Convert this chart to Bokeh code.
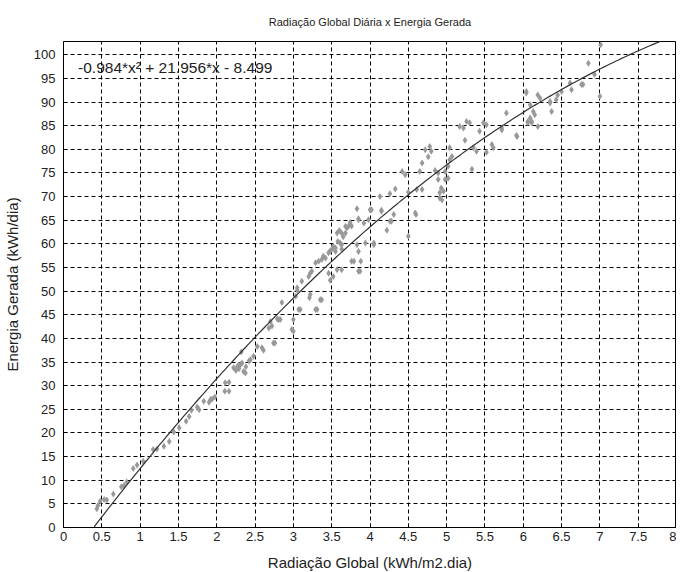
import numpy as np
from bokeh.plotting import figure
from bokeh.models import LinearAxis, FixedTicker, Range1d, Label, ColumnDataSource
from bokeh.embed import file_html
from bokeh.resources import INLINE

# ---- data ----
rad = [0.435, 0.45, 0.478, 0.53, 0.565, 0.65, 0.755, 0.79, 0.825, 0.91, 0.96, 1.04, 1.17, 1.22, 1.31, 1.38,
       1.44, 1.51, 1.60, 1.64, 1.67, 1.745, 1.77, 1.83, 1.90, 1.92, 1.94, 1.975,
       2.105, 2.11, 2.16, 2.16, 2.22, 2.27, 2.29, 2.31, 2.29, 2.35, 2.375, 2.32, 2.42, 2.44, 2.48, 2.53,
       2.59, 2.61, 2.68, 2.70, 2.72, 2.74, 2.76, 2.79, 2.81, 2.83, 2.85, 2.98, 3.0, 3.0, 2.25, 2.33, 2.38,
       3.03, 3.05, 3.05, 3.07, 3.09, 3.11, 3.2, 3.21, 3.22, 3.22, 3.24, 3.29, 3.29, 3.31, 3.33, 3.35, 3.37,
       3.37, 3.39, 3.46, 3.46, 3.48, 3.50, 3.52, 3.52, 3.52, 3.55, 3.55, 3.57, 3.57, 3.61, 3.63, 3.63, 3.63,
       3.63, 3.68, 3.68, 3.70, 3.72, 3.76, 3.76, 3.79, 3.83, 3.83, 3.85, 3.85, 3.85, 3.85, 3.87, 3.88, 3.92,
       3.94, 3.98, 3.42, 3.48, 3.58, 3.65, 3.74, 3.60,
       4.00, 4.02, 4.05, 4.05, 4.13, 4.15, 4.15, 4.22, 4.26, 4.26, 4.28, 4.31, 4.33, 4.42, 4.46, 4.50, 4.50,
       4.59, 4.60, 4.61, 4.65, 4.68, 4.68, 4.72, 4.76, 4.78, 4.80, 4.85, 4.89, 4.89, 4.91, 4.91, 4.93, 4.94,
       4.96, 4.98, 4.98, 5.02, 5.02,
       5.04, 5.04, 5.07, 5.17, 5.22, 5.24, 5.26, 5.30, 5.33, 5.35, 5.39, 5.43, 5.48, 5.52, 5.52, 5.59, 5.61,
       5.72, 5.72, 5.78, 5.91, 5.92,
       6.04, 6.04, 6.06, 6.06, 6.09, 6.09, 6.11, 6.11, 6.13, 6.15, 6.19, 6.19, 6.22, 6.35, 6.35, 6.37, 6.43,
       6.45, 6.50, 6.61, 6.63, 6.76, 6.78, 6.85, 6.93, 7.0, 7.01]
energia = [3.95, 4.65, 5.56, 5.9, 5.8, 7.1, 8.6, 8.9, 9.6, 12.5, 13.2, 14.0, 16.5, 16.6, 17.2, 18.2,
           20.2, 21.1, 22.5, 23.5, 24.8, 25.5, 24.9, 26.7, 26.5, 27.1, 27.2, 27.6,
           28.8, 30.6, 30.7, 28.8, 33.8, 34.1, 33.6, 34.5, 34.1, 33.0, 32.7, 37.1, 35.2, 35.5, 36.2, 38.3,
           38.0, 37.5, 42.2, 43.6, 42.6, 39.0, 39.0, 44.1, 44.0, 44.0, 47.6, 41.9, 41.5, 44.0, 33.2, 34.8, 34.0,
           48.9, 50.2, 50.7, 46.1, 46.1, 52.1, 53.1, 48.6, 49.3, 53.8, 54.2, 56.0, 46.1, 46.1, 56.3, 48.2, 48.2,
           56.7, 57.4, 58.1, 53.8, 52.3, 58.8, 59.5, 53.1, 59.1, 58.4, 59.1, 54.5, 62.3, 60.2, 62.3, 59.8, 58.9,
           54.5, 62.3, 63.7, 63.4, 63.7, 63.8, 56.3, 56.3, 67.4, 59.8, 54.2, 58.4, 65.3, 65.1, 54.2, 56.3, 64.4,
           60.2, 65.1, 57.0, 58.5, 60.5, 61.5, 64.5, 62.8,
           67.2, 67.2, 59.8, 60.2, 70.0, 67.1, 66.9, 62.9, 70.6, 64.8, 64.8, 66.2, 71.6, 75.3, 74.6, 70.9, 61.6,
           66.5, 66.2, 71.5, 75.3, 77.1, 71.5, 79.9, 78.4, 80.6, 79.6, 75.5, 75.0, 73.6, 70.8, 69.7, 71.8, 69.3,
           71.1, 75.3, 73.6, 76.4, 73.9,
           80.3, 77.8, 78.5, 84.8, 84.5, 81.9, 85.9, 85.6, 75.8, 80.3, 79.6, 83.8, 85.6, 85.2, 79.4, 81.0, 80.3,
           84.1, 84.5, 87.7, 82.9, 82.7,
           91.9, 92.2, 85.9, 85.6, 89.4, 86.6, 85.6, 85.9, 88.0, 87.3, 91.5, 84.8, 90.8, 90.1, 89.8, 88.0, 90.5,
           91.5, 92.2, 94.0, 92.6, 93.7, 93.7, 98.2, 95.8, 91.2, 102.1]

# fitted polynomial shown on the chart
fit_coef = [-0.984, 21.956, -8.499]
fit_x_range = [0.4, 7.8]

x_ticks = [0, 0.5, 1, 1.5, 2, 2.5, 3, 3.5, 4, 4.5, 5, 5.5, 6, 6.5, 7, 7.5, 8]
x_tick_labels = ["0", "0.5", "1", "1.5", "2", "2.5", "3", "3.5", "4", "4.5", "5", "5.5", "6", "6.5", "7", "7.5", "8"]
y_ticks = list(range(0, 101, 5))

title_text = "Radiação Global Diária x Energia Gerada"
x_label = "Radiação Global (kWh/m2.dia)"
y_label = "Energia Gerada (kWh/dia)"
eq_text = "-0.984*x² + 21.956*x - 8.499"

FONT = "Liberation Sans"

p = figure(frame_width=613, frame_height=486, output_backend="svg", toolbar_location=None,
           x_range=Range1d(0, 8), y_range=Range1d(0, 102.8),
           min_border_left=57, min_border_right=0, min_border_top=34, min_border_bottom=0,
           x_axis_location=None, y_axis_location=None)

p.background_fill_color = "white"
p.border_fill_color = "white"
p.outline_line_color = "black"
p.outline_line_width = 1
p.outline_line_alpha = 1

p.title.text = title_text
p.title.align = "center"
p.title.text_font = FONT
p.title.text_font_size = "11px"
p.title.text_font_style = "normal"
p.title.text_color = "#222222"
p.title.standoff = 27

xt = FixedTicker(ticks=x_ticks)
yt = FixedTicker(ticks=y_ticks)

def mk_axis(ticker):
    ax = LinearAxis(ticker=ticker)
    ax.major_tick_in = 4
    ax.major_tick_out = 0
    ax.minor_tick_line_color = None
    ax.axis_line_color = "black"
    ax.major_tick_line_color = "black"
    ax.major_label_text_font = FONT
    ax.major_label_text_font_size = "13px"
    ax.major_label_text_color = "#222222"
    ax.axis_label_text_font = FONT
    ax.axis_label_text_font_size = "15px"
    ax.axis_label_text_font_style = "normal"
    ax.axis_label_text_color = "#222222"
    return ax

xb = mk_axis(xt)
xb.axis_label = x_label
xb.major_label_overrides = {t: s for t, s in zip(x_ticks, x_tick_labels)}
xb.major_label_standoff = 4
xb.axis_label_standoff = 10
p.add_layout(xb, "below")

yl = mk_axis(yt)
yl.axis_label = y_label
yl.major_label_standoff = 8
yl.axis_label_standoff = 10
p.add_layout(yl, "left")

p.xgrid.ticker = xt
p.ygrid.ticker = yt
for g in (p.xgrid, p.ygrid):
    g.grid_line_color = "black"
    g.grid_line_dash = "4 3"
    g.grid_line_width = 1
    g.grid_line_alpha = 1

src = ColumnDataSource(dict(x=rad, y=energia))
p.scatter("x", "y", source=src, marker="diamond", size=7, fill_color="#999999", line_color=None)

fx = np.linspace(fit_x_range[0], fit_x_range[1], 200)
fy = np.polyval(fit_coef, fx)
p.line(fx, fy, line_color="#333333", line_width=1.2)

p.add_layout(Label(x=0.19, y=97.2, text=eq_text, text_font=FONT, text_font_size="15.5px",
                   text_color="#222222", text_baseline="middle", text_align="left"))

open("out.html", "w").write(file_html(p, INLINE))
